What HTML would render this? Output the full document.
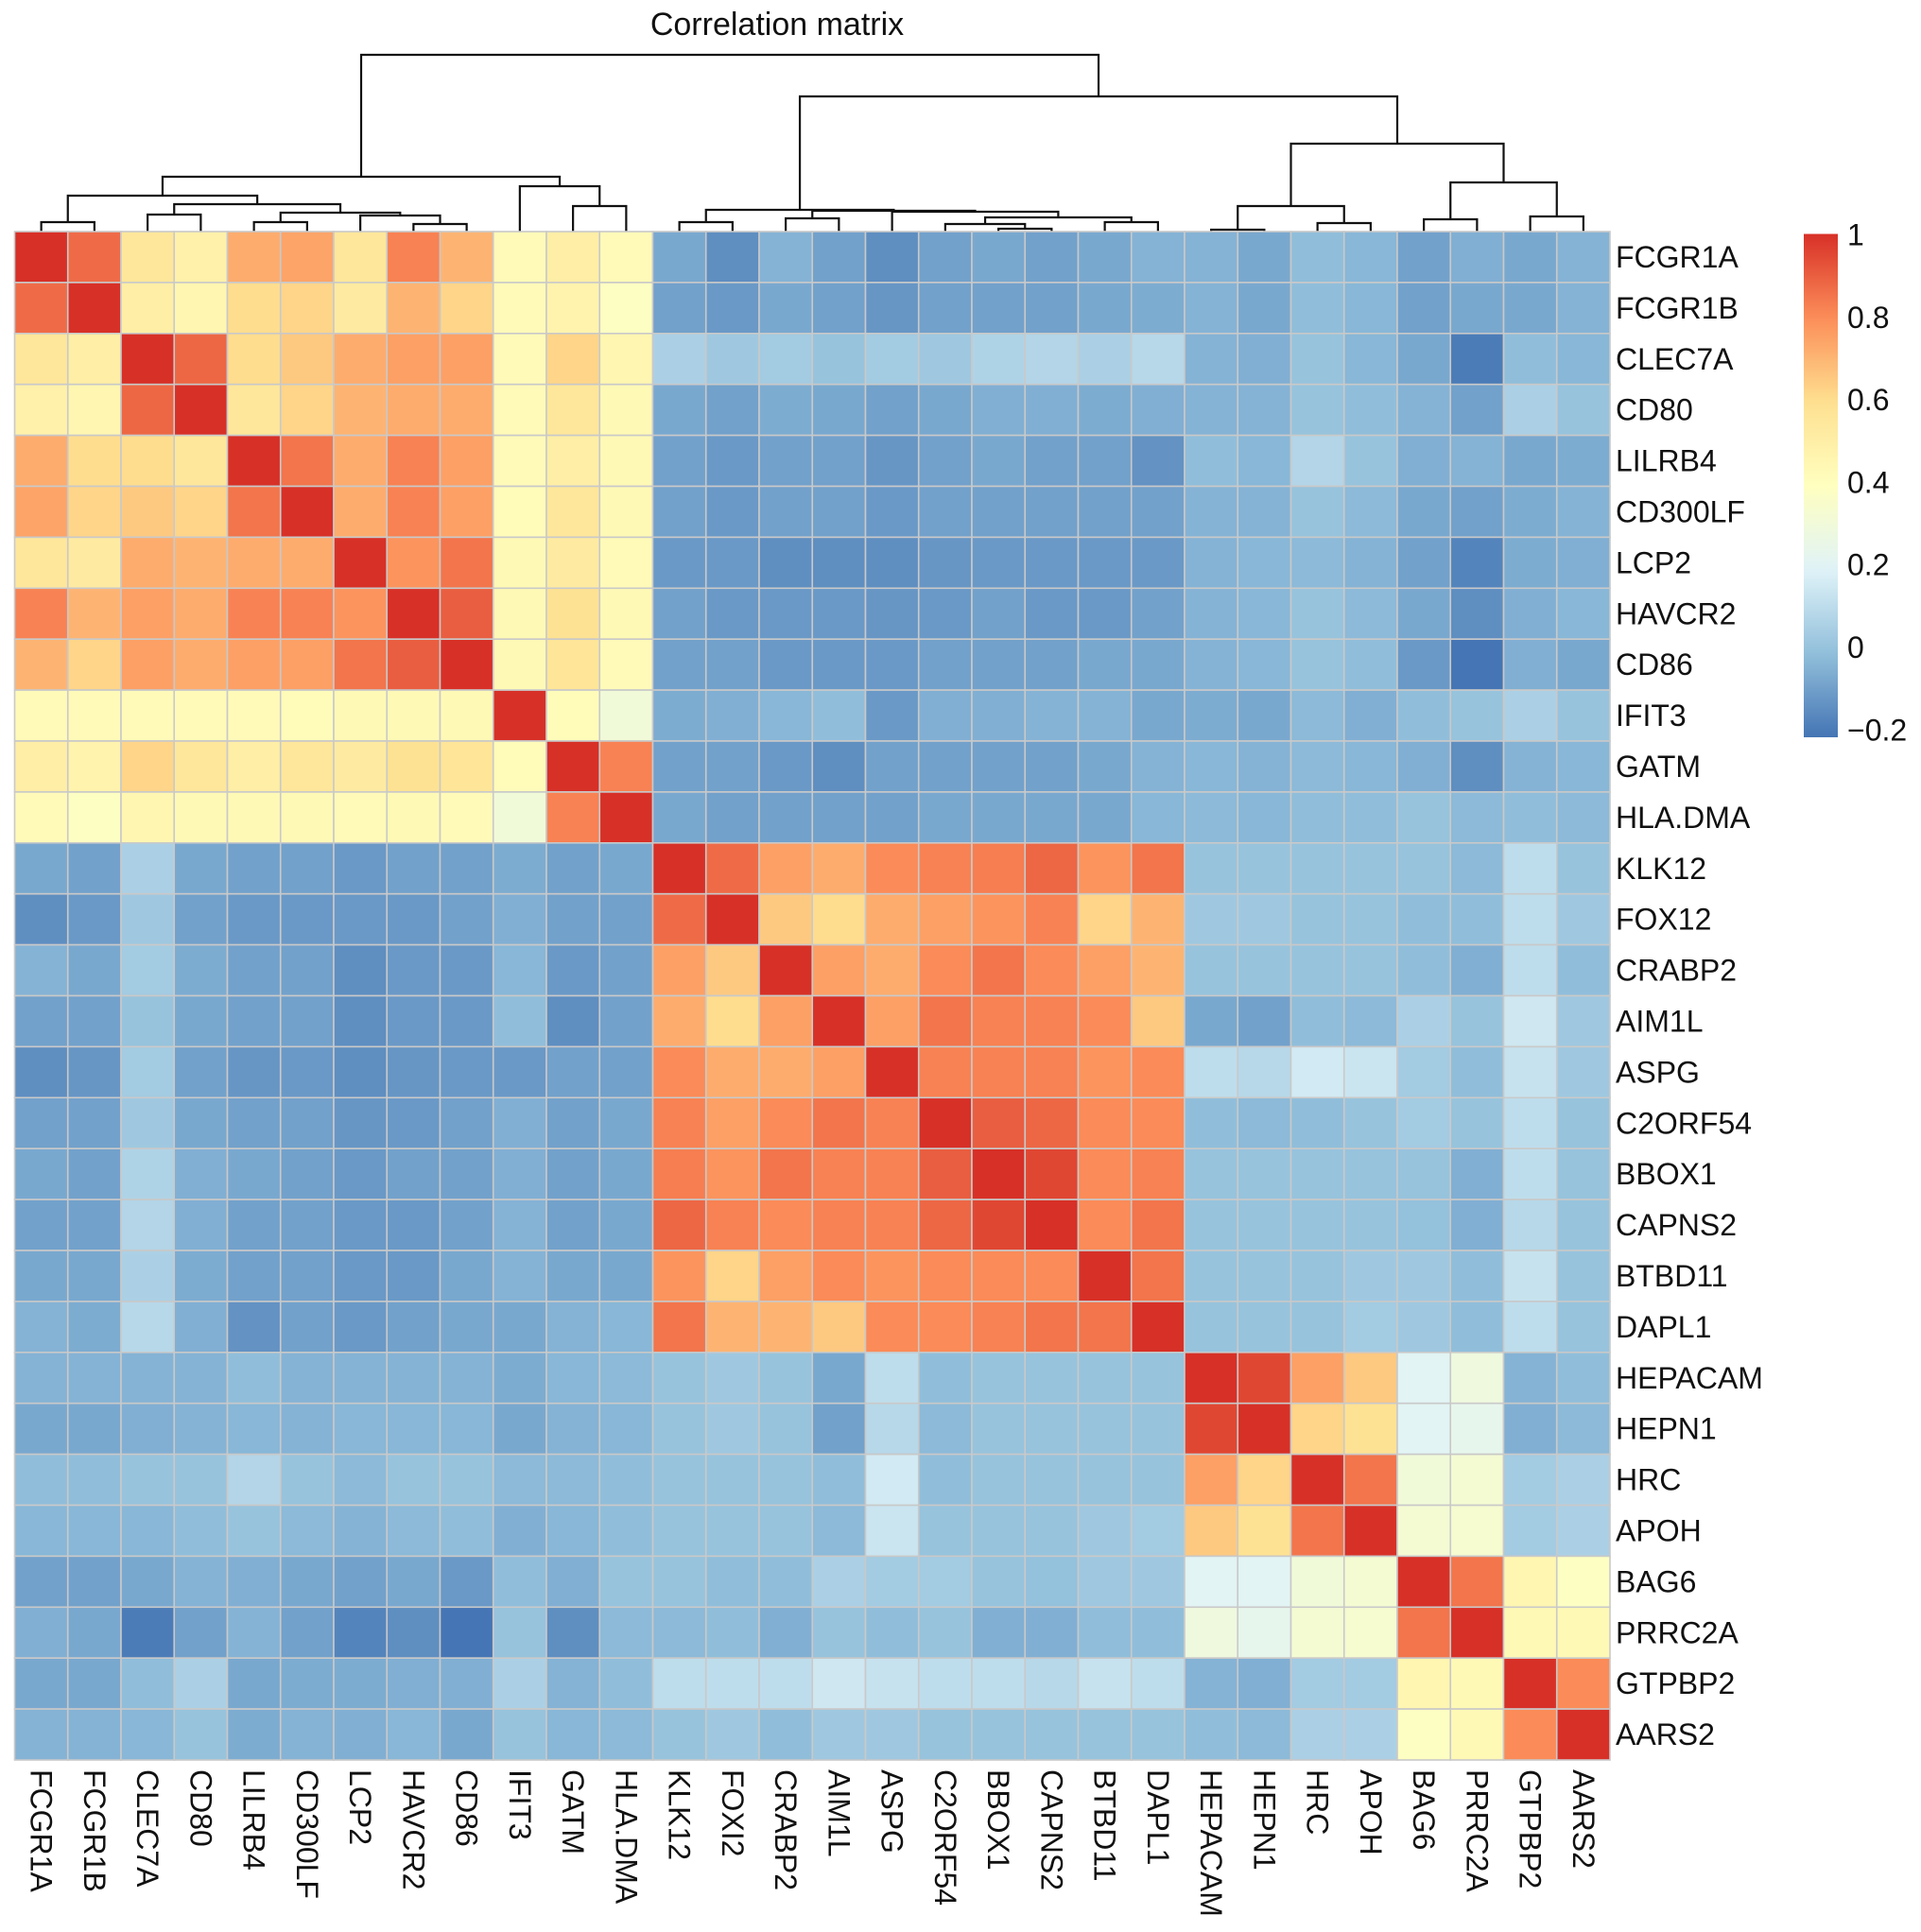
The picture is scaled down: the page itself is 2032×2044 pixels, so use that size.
<!DOCTYPE html>
<html><head><meta charset="utf-8"><style>
html,body{margin:0;padding:0;background:#fff;}
svg{display:block;font-family:"Liberation Sans",sans-serif;}
</style></head><body>
<svg id="chart" width="2032" height="2044" viewBox="0 0 2032 2044" xmlns="http://www.w3.org/2000/svg">
<text x="822" y="37" font-size="34" text-anchor="middle" fill="#111">Correlation matrix</text>
<g id="dendro"></g>
<g id="cells"></g>
<g id="rowlabels"></g>
<g id="collabels"></g>
<g id="legend"></g>
</svg>
<script>
const genes = ["FCGR1A","FCGR1B","CLEC7A","CD80","LILRB4","CD300LF","LCP2","HAVCR2","CD86","IFIT3","GATM","HLA.DMA","KLK12","FOXI2","CRABP2","AIM1L","ASPG","C2ORF54","BBOX1","CAPNS2","BTBD11","DAPL1","HEPACAM","HEPN1","HRC","APOH","BAG6","PRRC2A","GTPBP2","AARS2"];
const rowLabels = ["FCGR1A","FCGR1B","CLEC7A","CD80","LILRB4","CD300LF","LCP2","HAVCR2","CD86","IFIT3","GATM","HLA.DMA","KLK12","FOX12","CRABP2","AIM1L","ASPG","C2ORF54","BBOX1","CAPNS2","BTBD11","DAPL1","HEPACAM","HEPN1","HRC","APOH","BAG6","PRRC2A","GTPBP2","AARS2"];
// upper triangle rows (values from diagonal+1 to end)
const upper = [
[.87,.55,.48,.72,.74,.55,.82,.7,.42,.5,.42, -.08,-.15,-.05,-.1,-.15,-.1,-.08,-.1,-.08,-.05, -.05,-.08,-.02,-.04,-.1,-.06,-.08,-.05],
[.5,.45,.6,.62,.52,.7,.62,.42,.47,.38, -.1,-.12,-.08,-.1,-.13,-.1,-.1,-.1,-.08,-.07, -.05,-.08,-.02,-.04,-.1,-.08,-.08,-.05],
[.88,.6,.65,.72,.75,.75,.42,.62,.45, .05,.02,.03,.0,.03,.02,.06,.07,.05,.08, -.05,-.06,0,-.04,-.08,-.2,-.02,-.04],
[.55,.62,.7,.72,.72,.42,.55,.43, -.08,-.1,-.07,-.08,-.1,-.08,-.06,-.06,-.07,-.06, -.05,-.05,0,-.02,-.05,-.1,.05,.0],
[.85,.72,.82,.75,.42,.5,.43, -.1,-.12,-.1,-.1,-.13,-.1,-.08,-.1,-.1,-.14, -.02,-.04,.07,.0,-.06,-.05,-.08,-.07],
[.72,.82,.75,.41,.55,.43, -.1,-.12,-.1,-.1,-.12,-.1,-.1,-.1,-.1,-.1, -.05,-.05,0,-.03,-.08,-.1,-.07,-.05],
[.78,.85,.43,.52,.42, -.12,-.12,-.15,-.15,-.15,-.13,-.12,-.12,-.12,-.12, -.05,-.04,-.03,-.05,-.1,-.18,-.07,-.06],
[.9,.43,.58,.43, -.1,-.12,-.12,-.12,-.13,-.12,-.1,-.12,-.12,-.1, -.05,-.04,0,-.03,-.08,-.15,-.06,-.04],
[.43,.56,.42, -.1,-.1,-.12,-.12,-.12,-.1,-.1,-.1,-.08,-.08, -.05,-.04,0,-.02,-.12,-.22,-.06,-.08],
[.41,.3, -.07,-.06,-.04,-.02,-.12,-.06,-.06,-.05,-.05,-.08, -.07,-.08,-.03,-.06,-.02,.0,.05,.0],
[.82, -.1,-.1,-.12,-.15,-.1,-.1,-.1,-.1,-.08,-.05, -.04,-.05,-.03,-.04,-.06,-.15,-.05,-.04],
[-.08,-.1,-.1,-.1,-.1,-.08,-.08,-.08,-.08,-.04, -.03,-.04,-.02,-.02,0,-.03,-.02,-.03],
[.87,.75,.72,.8,.82,.83,.88,.78,.85, 0,0,0,0,0,-.03,.1,0],
[.65,.6,.72,.75,.78,.82,.62,.7, .02,.02,0,0,-.02,-.02,.1,.02],
[.75,.72,.8,.85,.8,.75,.7, 0,0,0,0,-.02,-.06,.1,-.02],
[.75,.85,.82,.82,.8,.65, -.08,-.1,-.02,-.03,.05,.0,.14,.02],
[.82,.82,.82,.78,.8, .1,.08,.15,.13,.03,-.02,.12,.02],
[.9,.88,.8,.8, -.02,-.03,-.02,.0,.03,.0,.1,.0],
[.95,.8,.82, 0,0,0,0,0,-.06,.1,0],
[.8,.85, 0,0,0,0,-.01,-.06,.08,0],
[.85, 0,0,0,.02,.02,-.02,.12,.0],
[0,0,0,.03,.02,-.02,.1,.0],
[.95,.75,.65,.2,.28,-.05,-.02],
[.62,.58,.2,.23,-.06,-.03],
[.85,.3,.32,.03,.05],
[.32,.33,.03,.05],
[.85,.45,.38],
[.43,.43],
[.8],
[]
];
// dendrogram merges: [leftNode, rightNode, height]; leaves are 0..29, merge k creates node 30+k
const merges = [
[0,1,10],[2,3,18],[4,5,10],[7,8,8],[6,33,17],[32,34,20],[31,35,29],[30,36,38],
[10,11,27],[9,38,48],[37,39,58],
[12,13,10],[14,15,14],[18,19,3],[17,43,8],[20,21,10],[44,45,15],[16,46,21],[42,47,22],[41,48,23],
[22,23,2],[24,25,9],[50,51,27],[26,27,13],[28,29,16],[53,54,52],[52,55,93],[49,56,143],
[40,57,187]
];
const legendTicks = [1,0.8,0.6,0.4,0.2,0,-0.2];
const legendTickText = ["1","0.8","0.6","0.4","0.2","0","\u22120.2"];

const NS="http://www.w3.org/2000/svg";
const N=genes.length;
const X0=15.5, X1=1703, Y0=245, Y1=1862;
const cw=(X1-X0)/N, ch=(Y1-Y0)/N;
const xPos=i=>X0+i*cw, yPos=i=>Y0+i*ch;
const VMIN=-0.22, VMAX=1.0;
const stops=["#4575B4","#91BFDB","#E0F3F8","#FFFFBF","#FEE090","#FC8D59","#D73027"];
function hex(c){return [parseInt(c.slice(1,3),16),parseInt(c.slice(3,5),16),parseInt(c.slice(5,7),16)];}
function color(v){
  let t=(v-VMIN)/(VMAX-VMIN); t=Math.max(0,Math.min(1,t))*(stops.length-1);
  const i=Math.min(stops.length-2,Math.floor(t)), f=t-i;
  const a=hex(stops[i]), b=hex(stops[i+1]);
  return "rgb("+a.map((x,k)=>Math.round(x+(b[k]-x)*f)).join(",")+")";
}
function mk(tag,attrs,parent){const e=document.createElementNS(NS,tag);for(const k in attrs)e.setAttribute(k,attrs[k]);parent.appendChild(e);return e;}

const M=[];for(let i=0;i<N;i++){M.push(new Array(N).fill(1));}
for(let i=0;i<N;i++){upper[i].forEach((v,k)=>{const j=i+1+k;M[i][j]=v;M[j][i]=v;});}
const cells=document.getElementById("cells");
for(let i=0;i<N;i++)for(let j=0;j<N;j++){
  const r=mk("rect",{x:xPos(j),y:yPos(i),width:cw,height:ch,fill:color(M[i][j]),stroke:"#c9c9c9","stroke-width":1.6},cells);
  
  
}
const rl=document.getElementById("rowlabels");
rowLabels.forEach((g,i)=>{
  const t=mk("text",{x:1709,y:yPos(i)+ch/2+11,"font-size":32,fill:"#111"},rl);
  t.textContent=g;
  
  
});
const cl=document.getElementById("collabels");
genes.forEach((g,i)=>{
  const cx=xPos(i)+cw/2, y=1872;
  const t=mk("text",{x:cx,y:y,"font-size":32,fill:"#111",transform:"rotate(90 "+cx+" "+y+")",dy:11},cl);
  t.textContent=g;
  
  
});
const dg=document.getElementById("dendro");
const HS=(245-58)/187;
const hY=h=>Y0-h*HS;
const nodeX=[],nodeH=[];
for(let i=0;i<N;i++){nodeX.push(xPos(i)+cw/2);nodeH.push(0);}
merges.forEach(m=>{
  const [a,b,h]=m;
  const xa=nodeX[a],xb=nodeX[b],y=hY(h);
  const p=mk("path",{d:"M"+xa+","+hY(nodeH[a])+"V"+y+"H"+xb+"V"+hY(nodeH[b]),fill:"none",stroke:"#111","stroke-width":2.2},dg);
  
  
  nodeX.push((xa+xb)/2);nodeH.push(h);
});
const lg=document.getElementById("legend");
const LX=1908,LW=36;
const vY=v=>684-v*436.5;
const defs=mk("defs",{},lg);
const grad=mk("linearGradient",{id:"lgrad",x1:0,y1:1,x2:0,y2:0},defs);
for(let k=0;k<=40;k++){const v=VMIN+(VMAX-VMIN)*k/40;mk("stop",{offset:((vY(VMIN)-vY(v))/(vY(VMIN)-vY(VMAX))),"stop-color":color(v)},grad);}
const bar=mk("rect",{x:LX,y:vY(VMAX),width:LW,height:vY(VMIN)-vY(VMAX),fill:"url(#lgrad)"},lg);


legendTicks.forEach((v,k)=>{
  const t=mk("text",{x:1954,y:vY(v)+12,"font-size":32,fill:"#111"},lg);
  t.textContent=legendTickText[k];
  
  
});
</script>
</body></html>
